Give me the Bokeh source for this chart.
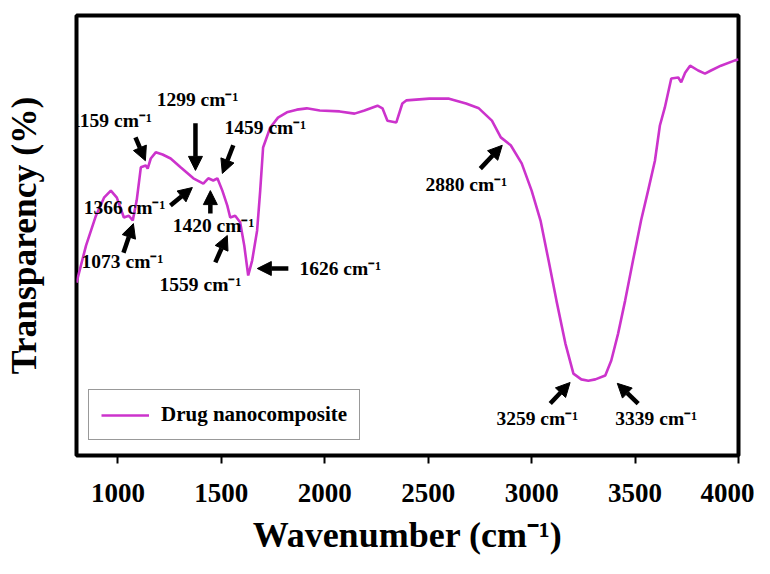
from bokeh.plotting import figure
from bokeh.models import Range1d, FixedTicker, Arrow, NormalHead, ColumnDataSource
from bokeh.core.properties import value
from bokeh.embed import file_html
from bokeh.resources import INLINE

# ---- spectrum data ----
wavenumber = [800, 846, 894, 933, 966, 995, 1029, 1053, 1072, 1091, 1111, 1135, 1144, 1159,
              1183, 1216, 1255, 1303, 1365, 1413, 1437, 1461, 1481, 1505, 1529, 1543, 1567,
              1591, 1611, 1630, 1649, 1673, 1688, 1702, 1736, 1774, 1817, 1865, 1913, 1976,
              2072, 2144, 2192, 2255, 2279, 2303, 2346, 2375, 2394, 2505, 2601, 2683, 2745,
              2808, 2851, 2899, 2952, 3000, 3043, 3082, 3120, 3163, 3202, 3240, 3274, 3308,
              3356, 3385, 3418, 3452, 3490, 3529, 3563, 3596, 3620, 3644, 3675, 3709, 3723,
              3742, 3766, 3805, 3838, 3867, 3915, 3983, 4000]
transparency = [39.3, 47.7, 54.5, 58.6, 60.2, 58.6, 54.1, 54.5, 53.4, 58.0, 65.5, 65.9, 65.2, 67.5,
                68.9, 68.4, 67.5, 65.5, 63.0, 61.8, 63.0, 62.5, 63.0, 60.2, 56.8, 54.1, 54.5,
                53.0, 47.7, 40.9, 44.3, 51.1, 60.2, 70.0, 74.5, 76.8, 78.0, 78.6, 78.9, 78.4,
                78.2, 77.7, 78.4, 79.5, 78.9, 76.1, 75.7, 80.0, 80.7, 81.1, 81.1, 80.0, 78.9,
                76.1, 72.3, 70.5, 66.4, 60.2, 53.4, 44.3, 35.2, 25.5, 18.6, 17.3, 17.0, 17.3,
                18.2, 21.6, 27.7, 35.2, 44.3, 53.4, 60.2, 67.0, 75.0, 79.1, 85.7, 85.9, 84.8,
                87.0, 88.6, 87.5, 86.8, 87.5, 88.6, 89.8, 90.0]
series_name = "Drug nanocomposite"
x_ticks = [1000, 1500, 2000, 2500, 3000, 3500, 4000]

# ---- peak annotations ----
peaks = [1159, 1299, 1459, 1366, 1420, 1073, 1559, 1626, 2880, 3259, 3339]
label_x = [969, 1385, 1713, 1032, 1462, 1022, 1399, 2075, 2684, 3027, 3602]
label_y = [76.1, 80.9, 74.6, 56.4, 52.3, 44.1, 38.9, 42.5, 61.6, 8.4, 8.4]
arrow_x0 = [1085, 1375, 1558, 1254, 1447, 1027, 1471, 1824, 2752, 3090, 3515]
arrow_y0 = [72.3, 75.5, 70.5, 56.8, 55.0, 46.1, 43.9, 42.5, 65.2, 11.8, 11.8]
arrow_x1 = [1133, 1375, 1505, 1360, 1447, 1075, 1529, 1674, 2858, 3186, 3414]
arrow_y1 = [67.0, 64.8, 64.1, 60.9, 60.2, 52.7, 50.0, 42.5, 70.5, 16.6, 16.4]

FONT = value("Liberation Serif")

p = figure(width=754, height=558, output_backend="svg", toolbar_location=None,
           x_range=Range1d(800, 4000), y_range=Range1d(0, 100),
           min_border_left=76, min_border_right=16, min_border_top=15, min_border_bottom=103)

p.line(wavenumber, transparency, line_color="#CC33CC", line_width=2.6, legend_label=series_name)

arrow_src = ColumnDataSource(dict(x0=arrow_x0, y0=arrow_y0, x1=arrow_x1, y1=arrow_y1))
p.add_layout(Arrow(end=NormalHead(size=14, fill_color="black", line_color="black", line_width=1),
                   x_start="x0", y_start="y0", x_end="x1", y_end="y1", source=arrow_src,
                   line_color="black", line_width=4.5))

text_src = ColumnDataSource(dict(x=label_x, y=label_y, t=[f"{v} cm\u207b\u00b9" for v in peaks]))
p.text(x="x", y="y", text="t", source=text_src, text_font=FONT, text_font_style="bold",
       text_font_size="19.5px", text_align="center", text_baseline="middle", text_color="black")

# frame and axes
p.outline_line_color = "black"
p.outline_line_width = 4
p.grid.visible = False

p.xaxis.ticker = FixedTicker(ticks=x_ticks)
p.xaxis.axis_line_color = None
p.xaxis.major_tick_out = 8
p.xaxis.major_tick_in = 0
p.xaxis.major_tick_line_width = 2
p.xaxis.major_tick_line_color = "black"
p.xaxis.minor_tick_line_color = None
p.xaxis.major_label_text_font = "Liberation Serif"
p.xaxis.major_label_text_font_style = "bold"
p.xaxis.major_label_text_font_size = "27px"
p.xaxis.major_label_text_color = "black"
p.xaxis.major_label_standoff = 20
p.xaxis.axis_label = "Wavenumber (cm\u207b\u00b9)"
p.xaxis.axis_label_text_font = "Liberation Serif"
p.xaxis.axis_label_text_font_style = "bold"
p.xaxis.axis_label_text_font_size = "36px"
p.xaxis.axis_label_text_color = "black"
p.xaxis.axis_label_standoff = 10

p.yaxis.ticker = FixedTicker(ticks=[])
p.yaxis.axis_line_color = None
p.yaxis.minor_tick_line_color = None
p.yaxis.major_tick_line_color = None
p.yaxis.axis_label = "Transparency (%)"
p.yaxis.axis_label_text_font = "Liberation Serif"
p.yaxis.axis_label_text_font_style = "bold"
p.yaxis.axis_label_text_font_size = "35.5px"
p.yaxis.axis_label_text_color = "black"
p.yaxis.axis_label_standoff = 33

lg = p.legend[0]
lg.location = (12, 15)
lg.border_line_color = "#333333"
lg.border_line_width = 1.5
lg.padding = 12
lg.margin = 0
lg.glyph_width = 48
lg.glyph_height = 20
lg.label_standoff = 12
lg.label_text_font = "Liberation Serif"
lg.label_text_font_style = "bold"
lg.label_text_font_size = "21px"
lg.label_text_color = "black"
lg.background_fill_alpha = 1

open("out.html", "w").write(file_html(p, INLINE))
